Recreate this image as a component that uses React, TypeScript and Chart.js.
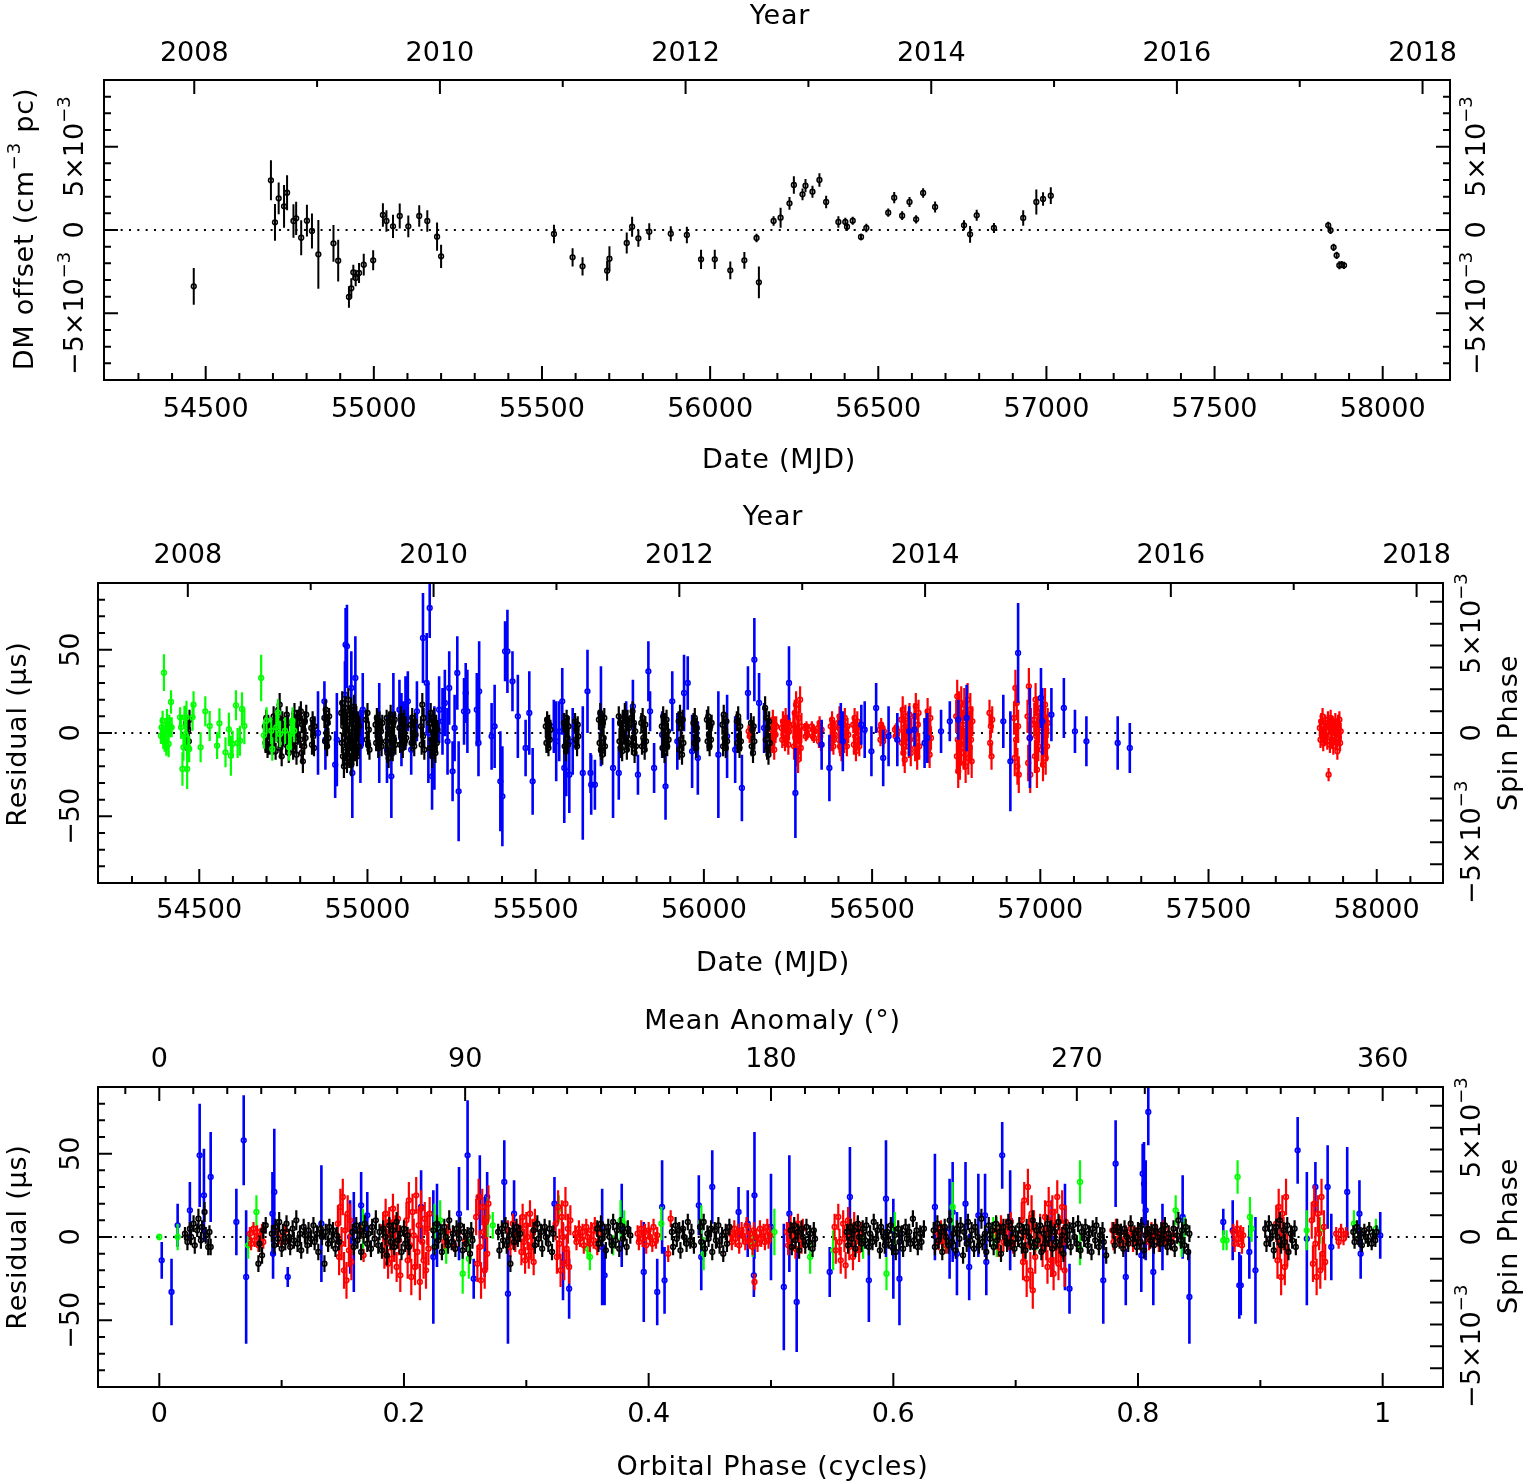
import React, { useEffect, useRef } from "react";
import { Chart, registerables } from "chart.js";

Chart.register(...registerables);

const W = 1528;
const H = 1484;
const FONT = '"DejaVu Sans", "Liberation Sans", sans-serif';

// ---------- tick label values ----------
const mjdTickLabels = [54500, 55000, 55500, 56000, 56500, 57000, 57500, 58000];
const yearTickLabels = [2008, 2010, 2012, 2014, 2016, 2018];
const phaseTickLabels = [0, 0.2, 0.4, 0.6, 0.8, 1];
const anomalyTickLabels = [0, 90, 180, 270, 360];
const residualTickLabels = [-50, 0, 50];
const milliTickLabels = [-5, 0, 5]; // in units of 10^-3

// ---------- Panel 1: DM offset [MJD, offset (1e-3 cm^-3 pc), error] ----------
const dmOffsets = [
  [54464.5, -3.38, 1.1],
  [54694, 2.98, 1.2], [54706, 0.46, 1.1], [54717, 1.9, 0.95], [54733, 1.42, 1.28], [54742, 2.24, 1.05],
  [54761, 0.54, 1.0], [54769, 0.7, 1.0], [54784, -0.46, 1.05], [54801, 0.56, 0.95], [54816, -0.06, 1.05],
  [54835, -1.46, 2.06], [54880, -0.8, 1.1], [54894, -1.84, 1.25], [54926, -4.02, 0.65], [54933, -3.5, 0.6],
  [54939, -2.54, 0.45], [54946, -2.88, 0.5], [54956, -2.58, 0.6], [54970, -2.08, 0.65], [54998, -1.82, 0.6],
  [55027, 0.9, 0.7], [55037.5, 0.54, 0.65], [55057, 0.22, 0.7], [55077, 0.84, 0.75], [55102.5, 0.22, 0.65],
  [55135, 0.84, 0.65], [55159, 0.54, 0.65], [55188, -0.4, 0.85], [55200, -1.58, 0.7],
  [55535.6, -0.24, 0.55], [55591, -1.64, 0.55], [55620.6, -2.18, 0.55], [55693.7, -2.44, 0.6], [55700.6, -1.72, 0.75],
  [55752, -0.78, 0.63], [55768, 0.2, 0.6], [55786.6, -0.5, 0.5], [55819, -0.1, 0.5], [55883, -0.22, 0.45],
  [55930.8, -0.3, 0.5], [55973, -1.76, 0.58], [56013.8, -1.76, 0.58], [56060, -2.42, 0.53], [56101.8, -1.82, 0.5],
  [56138, -0.48, 0.25], [56145, -3.14, 0.95], [56188.7, 0.54, 0.28], [56209.5, 0.74, 0.6], [56236, 1.6, 0.38],
  [56249, 2.7, 0.52], [56274.7, 2.14, 0.35], [56283.6, 2.66, 0.4], [56304.3, 2.3, 0.36], [56325, 3.0, 0.4],
  [56345, 1.68, 0.38], [56381.4, 0.48, 0.34], [56402, 0.48, 0.25], [56407, 0.2, 0.25], [56424, 0.56, 0.24],
  [56448.7, -0.42, 0.2], [56464.5, 0.12, 0.26], [56529.6, 1.04, 0.25], [56547.4, 1.94, 0.34], [56571, 0.86, 0.26],
  [56592.9, 1.68, 0.3], [56612.6, 0.64, 0.25], [56633.4, 2.22, 0.28], [56669, 1.38, 0.33], [56755, 0.28, 0.3],
  [56773, -0.26, 0.5], [56792.7, 0.88, 0.33], [56844, 0.12, 0.3], [56931, 0.72, 0.46], [56970, 1.68, 0.75],
  [56990, 1.86, 0.4], [57013, 2.06, 0.5], [57838, 0.28, 0.22], [57845, -0.02, 0.22], [57854, -1.04, 0.22],
  [57863, -1.52, 0.22], [57871, -2.12, 0.24], [57878, -2.08, 0.22], [57885, -2.12, 0.22],
];

// ---------- Panel 2: timing residuals vs date [MJD, residual (us), error] ----------
const p2Green = [
  [54386, -1.6, 5], [54388, 3.4, 6], [54391, 7.4, 6], [54393, -3.6, 6], [54395, 36.2, 11], [54397, -5.6, 5.6],
  [54399, 1.4, 5], [54402, -8.6, 5], [54404, 7.4, 7], [54406, -0.6, 6], [54409, -6.6, 8], [54411, 5, 6],
  [54414, 3.4, 6], [54416, 18.6, 7], [54418, 3.4, 6], [54443, 9.4, 6], [54446, 3.4, 7], [54450, -21.6, 10],
  [54453, -8.6, 8], [54456, 9.4, 7], [54459, -0.6, 8], [54462, 9.4, 10], [54464, -21.6, 12], [54467, -8.6, 8],
  [54470, -9.6, 8], [54480, 9.4, 8], [54483, 17, 8], [54504, -8.6, 9], [54518, 13, 9], [54531, 4.2, 9],
  [54553, -7.6, 8], [54560, 5.8, 9], [54578, -11.6, 9], [54588, 2.2, 10], [54594, -13.6, 12], [54599, -6.6, 8],
  [54609, 16.6, 9], [54614, -6, 9], [54621, -4.6, 9], [54627, 14.4, 10], [54634, 4.2, 11], [54684, 33, 14],
  [54692, -1.4, 8], [54700, 7.4, 8], [54714, 1.4, 8], [54717, -9.6, 7], [54729, 3.4, 9], [54734, 12.2, 8],
  [54740, -0.6, 8], [54755, 1.4, 8], [54767, -8.6, 8], [54772, -0.6, 9], [54777, 7.4, 8], [54782, 1.4, 7],
];

const p2Black = [
  [54461, 6, 5], [54463, -3, 6], [54465, -9, 5], [54467, 2, 6], [54469, -5, 5], [54471, 8, 6],
  [54695, 4, 5], [54697, -6, 6], [54699, 9, 5], [54701, -2, 6], [54703, -10, 5], [54705, 5, 6], [54707, 1, 5], [54709, -7, 6],
  [54717, 2, 6], [54719, -8, 5], [54721, 10, 6], [54723, -3, 5], [54725, 6, 6], [54727, -11, 5], [54729, 3, 6],
  [54735, 14, 6], [54737, -4, 5], [54739, 17, 7], [54741, -9, 6], [54743, 5, 5], [54745, -14, 6], [54747, 8, 5], [54749, -2, 6],
  [54756, 3, 5], [54758, -7, 6], [54760, 11, 5], [54762, -1, 6], [54764, 6, 5], [54766, -12, 6],
  [54775, -3, 6], [54777, 7, 5], [54779, -10, 6], [54781, 2, 5], [54783, 12, 6], [54785, -5, 5], [54787, 4, 6], [54789, -13, 6], [54791, 9, 5], [54793, -1, 6],
  [54798, 10, 6], [54800, -4, 5], [54802, 13, 6], [54804, -12, 6], [54806, 5, 5], [54808, -17, 7], [54810, 2, 6], [54812, -8, 5], [54814, 7, 6], [54816, -3, 5], [54818, 11, 6],
  [54833, 3, 5], [54835, -7, 6], [54837, 8, 5], [54839, -2, 6], [54841, -9, 5], [54843, 4, 6],
  [54872, 9, 6], [54874, -5, 5], [54876, 14, 6], [54878, 0, 5], [54880, -8, 6], [54882, 6, 5], [54884, -3, 6], [54886, 10, 5],
  [54922, 12, 7], [54924, -6, 6], [54925, 18, 7], [54927, -14, 6], [54928, 4, 6], [54930, -20, 7], [54931, 9, 6], [54933, -3, 6],
  [54934, 15, 7], [54936, -11, 6], [54937, 2, 6], [54939, -17, 7], [54940, 7, 6], [54942, -8, 6], [54943, 20, 7], [54945, -1, 6],
  [54946, -15, 6], [54948, 11, 6], [54949, -5, 6], [54951, 14, 7], [54952, -19, 7], [54954, 3, 6], [54955, -9, 6], [54957, 8, 6],
  [54958, -13, 6], [54960, 16, 7], [54961, -2, 6], [54963, -11, 6], [54964, 6, 6], [54966, -6, 6], [54967, 10, 6], [54969, -14, 6],
  [54970, 1, 6], [54972, 7, 6], [54974, -8, 6], [54976, 4, 6],
  [54996, 8, 6], [54998, -4, 5], [55000, 12, 6], [55002, -7, 6], [55004, 2, 5], [55006, -10, 6],
  [55024, 5, 6], [55026, -6, 5], [55028, 9, 6], [55030, -2, 5], [55032, -9, 6], [55034, 4, 5], [55036, 7, 6], [55038, -5, 5], [55040, 1, 6], [55042, -8, 6], [55044, 6, 5],
  [55055, -5, 6], [55057, 9, 5], [55059, -12, 6], [55061, 3, 5], [55063, -15, 6], [55065, 7, 6], [55067, -3, 5], [55069, 11, 6],
  [55071, -8, 6], [55073, 2, 5], [55075, -11, 6], [55077, 6, 5], [55079, -4, 6], [55081, 8, 5], [55083, -7, 6],
  [55095, 3, 6], [55097, -7, 5], [55099, 10, 6], [55101, -2, 5], [55103, 6, 6], [55105, -9, 6], [55107, 1, 5], [55109, 8, 6], [55111, -5, 5], [55113, 4, 6], [55115, -3, 5],
  [55129, 5, 6], [55131, -6, 5], [55133, 9, 6], [55135, -3, 5], [55137, 2, 6], [55139, -8, 6], [55141, 7, 5], [55143, -1, 6],
  [55159, 4, 6], [55161, -7, 6], [55163, 17, 7], [55165, -2, 6], [55167, 9, 6], [55169, -10, 6],
  [55184, 6, 6], [55186, -9, 6], [55188, 12, 6], [55190, -4, 6], [55192, -14, 7], [55194, 3, 6], [55196, -7, 6], [55198, 9, 6],
  [55200, -2, 6], [55202, -12, 6], [55204, 5, 6], [55206, -6, 6], [55208, 2, 6],
  [55530, 4, 5], [55532, -6, 6], [55534, 8, 5], [55536, -2, 6], [55538, -9, 5], [55540, 5, 6], [55542, -4, 5], [55544, 2, 6],
  [55584, 6, 6], [55586, -8, 5], [55588, 3, 6], [55590, -11, 6], [55592, 9, 5], [55594, -3, 6], [55596, -7, 5], [55598, 4, 6],
  [55617, 7, 5], [55619, -4, 6], [55621, 2, 5], [55623, -8, 6], [55625, 5, 5], [55627, -2, 6],
  [55688, 8, 6], [55690, -6, 6], [55692, 12, 6], [55694, -10, 6], [55696, 3, 5], [55698, -13, 6], [55700, 6, 6], [55702, -3, 5], [55704, 9, 6], [55706, -8, 6],
  [55747, 10, 6], [55749, -5, 6], [55751, 6, 5], [55753, -9, 6], [55755, 2, 5], [55757, -11, 6], [55759, 8, 6], [55761, -2, 5],
  [55765, 12, 6], [55767, -4, 6], [55769, 5, 5], [55771, -10, 6], [55773, 8, 6], [55775, -6, 5], [55777, 3, 6],
  [55784, 9, 6], [55786, -7, 6], [55788, 13, 6], [55790, -3, 5], [55792, 6, 6], [55794, -12, 6], [55796, 1, 5], [55798, -8, 6],
  [55814, 6, 6], [55816, -8, 5], [55818, 9, 6], [55820, -3, 5], [55822, 2, 6], [55824, -10, 6], [55826, 5, 5], [55828, -5, 6],
  [55875, 4, 6], [55877, -9, 6], [55879, 10, 6], [55881, -2, 5], [55883, -12, 6], [55885, 6, 6], [55887, -5, 5], [55889, 8, 6], [55891, -8, 6], [55893, 1, 5], [55895, -4, 6],
  [55925, 7, 6], [55927, -10, 6], [55929, 11, 6], [55931, -4, 5], [55933, 3, 6], [55935, -13, 6], [55937, 8, 6], [55939, -6, 5],
  [55969, 6, 6], [55971, -6, 5], [55973, 9, 6], [55975, -2, 5], [55977, -9, 6], [55979, 3, 6], [55981, -4, 5],
  [56009, 8, 6], [56011, -5, 6], [56013, 10, 6], [56015, -1, 5], [56017, -8, 6], [56019, 4, 5], [56021, -4, 6], [56023, 6, 5],
  [56055, 5, 6], [56057, -8, 6], [56059, 11, 6], [56061, -3, 5], [56063, 2, 6], [56065, -9, 6], [56067, 7, 5], [56069, -5, 6],
  [56098, 7, 6], [56100, -6, 6], [56102, 10, 6], [56104, -2, 5], [56106, -9, 6], [56108, 4, 5], [56110, -5, 6],
  [56140, 6, 6], [56142, -8, 6], [56144, 2, 5], [56146, -12, 6], [56148, 4, 6], [56150, -5, 5],
  [56182, 15, 7], [56184, -4, 6], [56186, 9, 6], [56188, -10, 6], [56190, 3, 6], [56192, -13, 6], [56194, 7, 6], [56196, -6, 6],
];

const p2Blue = [
  [54853, 0, 25], [54872, 19, 12], [54875, -4, 18], [54904, -19, 20], [54909, -4, 28], [54933, 23, 20], [54935, 53, 22],
  [54939, 52, 25], [54952, 27, 22], [54955, -24, 27], [54964, 33, 25], [54979, -8, 22], [54986, 14, 22], [55035, 0, 30],
  [55058, -10, 20], [55071, -26, 25], [55077, 11, 25], [55095, 14, 18], [55101, 2, 22], [55107, 5, 14], [55113, 12, 22],
  [55120, 19, 18], [55130, -10, 15], [55147, 13, 18], [55165, 57, 27], [55176, 30, 30], [55181, 0, 30], [55185, 75, 18],
  [55192, -26, 20], [55196, -8, 22], [55199, -9, 25], [55213, 14, 20], [55223, 7, 20], [55230, 18, 20], [55238, -5, 20],
  [55243, 27, 22], [55253, -23, 18], [55259, 3, 20], [55267, 36, 22], [55271, -35, 30], [55287, 13, 20], [55292, 24, 18],
  [55297, 13, 25], [55325, 14, 22], [55332, 25, 30], [55330, -6, 20], [55369, -2, 20], [55378, 4, 25], [55395, -29, 30],
  [55401, -38, 30], [55409, 49, 18], [55416, 49, 25], [55431, 31, 18], [55447, 10, 25], [55470, -9, 17], [55481, 12, 25],
  [55491, -29, 20], [55554, 4, 16], [55561, -5, 24], [55570, 1, 18], [55579, 19, 20], [55585, -21, 33], [55591, -23, 15],
  [55600, -25, 23], [55610, -5, 20], [55640, -24, 40], [55654, 25, 25], [55663, -24, 12], [55665, -31, 18], [55676, -31, 15],
  [55694, 10, 30], [55730, -21, 30], [55747, -24, 16], [55769, 7, 12], [55789, 16, 16], [55804, -25, 12], [55835, 37, 18],
  [55840, 13, 12], [55852, -21, 15], [55876, -1, 14], [55886, -32, 20], [55906, 19, 18], [55921, -5, 17], [55941, 24, 23],
  [55952, 30, 16], [55965, -11, 22], [55982, -15, 22], [56043, -13, 38], [56069, -2, 25], [56093, -10, 20], [56113, -33, 20],
  [56131, 24, 16], [56150, 44, 25], [56164, 18, 18], [56179, 3, 15], [56253, 30, 22], [56272, -36, 27], [56350, -7, 15],
  [56373, -21, 20], [56407, 6, 12], [56413, -5, 18], [56468, 5, 12], [56478, 2, 17], [56498, -11, 15], [56512, 15, 15],
  [56533, -15, 17], [56549, -2, 18], [56575, -4, 16], [56610, 1, 15], [56626, 2, 10], [56656, -6, 15], [56664, -3, 15],
  [56705, 1, 13], [56731, 7, 12], [56756, 8, 12], [56781, 9, 20], [56890, 7, 16], [56911, -17, 30], [56934, 48, 30],
  [56969, -3, 30], [57002, 21, 18], [57006, 7, 20], [57033, 11, 16], [57070, 15, 18], [57103, 1, 13], [57137, -5, 15],
  [57230, -6, 16], [57266, -9, 15],
];

const p2Red = [
  [56133, 1, 4], [56136, -2, 4], [56139, 3, 4], [56142, -1, 4], [56145, 2, 4],
  [56201, 2, 5], [56203, -6, 6], [56205, 8, 6], [56207, -3, 5], [56209, -10, 6], [56211, 5, 5], [56213, -1, 5], [56215, 4, 6],
  [56231, 3, 5], [56233, -4, 5], [56235, 7, 6], [56237, -1, 5], [56239, 5, 5], [56241, -6, 5], [56243, 9, 6], [56245, 2, 5],
  [56247, -3, 5], [56249, 6, 5], [56251, -7, 6], [56253, 1, 5], [56255, 4, 5],
  [56266, 5, 8], [56268, -8, 8], [56270, 12, 8], [56272, -3, 8], [56274, 17, 8], [56276, -12, 8], [56278, 2, 8], [56280, -16, 8],
  [56282, 9, 8], [56284, -5, 8], [56286, 20, 8], [56288, -9, 8], [56290, 4, 8],
  [56301, 3, 3], [56303, -2, 3], [56305, 4, 3], [56307, -1, 3], [56309, 2, 3],
  [56321, 4, 3], [56323, -2, 3], [56325, 2, 3], [56327, -3, 3], [56329, 1, 3],
  [56340, 3, 4], [56342, -5, 4], [56344, 6, 4], [56346, -2, 4], [56348, -7, 4], [56350, 2, 4],
  [56377, 4, 5], [56379, -6, 5], [56381, 8, 5], [56383, -2, 5], [56385, -8, 5], [56387, 3, 5], [56389, -1, 5],
  [56399, 6, 5], [56401, -4, 6], [56403, 10, 6], [56405, -8, 6], [56407, 2, 5], [56409, -11, 6], [56411, 7, 5], [56413, -2, 5],
  [56415, 5, 5], [56417, -6, 6], [56419, 9, 6], [56421, -3, 5], [56423, 1, 5], [56425, -8, 6], [56427, 4, 5], [56429, -1, 5],
  [56444, 5, 5], [56446, -7, 6], [56448, 9, 6], [56450, -2, 5], [56452, -11, 6], [56454, 3, 5], [56456, 7, 6], [56458, -5, 5],
  [56460, 1, 5], [56462, -8, 6],
  [56523, 2, 3], [56525, -4, 4], [56527, 5, 4], [56529, -1, 3], [56531, 3, 3], [56533, -5, 4], [56535, 1, 3], [56537, -2, 3],
  [56568, 2, 3], [56570, -2, 3], [56572, 3, 3], [56574, -1, 3], [56576, 1, 3],
  [56587, 8, 7], [56589, -6, 7], [56591, 14, 8], [56593, -12, 8], [56595, 3, 7], [56597, -16, 8], [56599, 10, 7], [56601, -3, 7],
  [56607, 6, 7], [56609, -8, 7], [56611, 11, 7], [56613, -4, 7], [56615, -12, 8], [56617, 2, 7],
  [56626, 10, 8], [56628, -9, 8], [56630, 16, 8], [56632, -3, 7], [56634, -14, 8], [56636, 5, 7], [56638, 12, 8], [56640, -8, 8],
  [56661, 7, 7], [56663, -5, 7], [56665, 13, 8], [56667, -10, 8], [56669, 2, 7], [56671, -13, 8], [56673, 9, 7], [56675, -3, 7],
  [56750, 10, 10], [56752, -14, 10], [56753, 22, 10], [56755, -4, 10], [56756, -23, 10], [56758, 15, 10], [56759, 2, 10], [56761, -18, 10],
  [56762, 7, 10], [56764, -9, 10], [56765, 18, 10],
  [56770, 5, 9], [56772, -12, 10], [56774, 17, 10], [56776, -6, 9], [56778, -20, 10], [56780, 9, 9], [56782, -2, 9], [56784, 20, 10],
  [56786, -15, 10], [56788, 4, 9], [56790, -9, 9], [56792, 14, 10], [56794, -4, 9], [56796, -17, 10], [56798, 7, 9],
  [56849, 12, 8], [56851, -6, 8], [56853, 4, 7], [56855, -14, 8], [56857, 8, 8],
  [56922, 9, 10], [56924, -15, 11], [56926, 27, 11], [56928, -4, 10], [56930, 18, 10], [56932, -20, 11], [56934, 4, 10], [56936, -25, 11],
  [56962, 10, 10], [56964, -18, 11], [56966, 28, 11], [56968, -3, 10], [56970, -25, 11], [56972, 5, 10],
  [56982, 8, 10], [56984, -14, 10], [56986, 20, 10], [56988, -2, 9], [56990, -22, 11], [56992, 12, 10], [56994, -8, 9], [56996, 3, 9],
  [57002, 15, 10], [57004, -10, 10], [57006, 5, 9], [57008, -19, 10], [57010, 10, 9], [57012, -4, 9], [57014, 17, 10], [57016, -15, 10],
  [57018, 2, 9], [57020, -8, 9], [57022, 6, 9],
  [57831, 3, 5], [57833, -4, 5], [57835, 7, 5], [57837, -1, 5], [57839, 10, 5], [57841, -6, 5], [57843, 2, 5], [57845, -3, 5],
  [57847, 6, 5], [57849, -2, 5], [57851, 1, 5], [57853, -5, 5], [57855, 8, 5], [57857, -25, 4], [57859, 4, 5], [57861, -7, 5],
  [57863, 9, 5], [57865, 0, 5], [57867, -4, 5], [57869, 5, 5], [57871, -8, 5], [57873, 3, 5], [57875, -2, 5], [57877, 7, 5],
  [57879, -5, 5], [57881, 2, 5], [57883, -11, 5], [57885, 6, 5], [57887, -3, 5], [57889, 8, 5], [57891, -6, 5], [57893, 1, 5],
];

// ---------- Panel 3: residuals vs orbital phase [phase, residual (us), error] ----------
const p3Black = [
  [0.021, 2, 4], [0.023, -3, 5], [0.025, 5, 4], [0.026, 0, 5], [0.028, 8, 5], [0.029, -5, 5], [0.031, 4, 4], [0.032, 11, 6],
  [0.034, -2, 5], [0.035, 6, 4], [0.037, 15, 6], [0.038, 1, 5], [0.040, -6, 5], [0.041, 3, 4], [0.042, -6, 5],
  [0.081, -16, 5], [0.082, -4, 5], [0.084, -11, 5], [0.085, 4, 5], [0.087, 7, 5],
  [0.092, 2, 5], [0.094, -5, 5], [0.095, 6, 5], [0.097, -1, 5], [0.098, 9, 6], [0.100, -7, 5], [0.101, 3, 5], [0.103, -3, 5],
  [0.104, 8, 5], [0.106, 0, 5], [0.107, -6, 5], [0.109, 5, 5], [0.110, -2, 5], [0.112, 10, 6], [0.113, -4, 5], [0.115, 2, 5],
  [0.116, -8, 5], [0.118, 6, 5], [0.119, 1, 5], [0.121, -5, 5], [0.122, 4, 5], [0.124, -1, 5], [0.126, 7, 5], [0.127, -3, 5],
  [0.129, 2, 5], [0.130, -9, 5], [0.132, 5, 5], [0.133, 0, 5], [0.135, -16, 5], [0.136, 3, 5], [0.138, -4, 5], [0.139, 6, 5],
  [0.141, -2, 5], [0.142, 4, 5], [0.144, -7, 5], [0.145, 1, 5], [0.147, -3, 5],
  [0.158, 3, 5], [0.159, -6, 5], [0.161, 7, 5], [0.162, -2, 5], [0.164, 4, 5], [0.165, -9, 5], [0.167, 1, 5], [0.168, 8, 5],
  [0.170, -4, 5], [0.171, 2, 5], [0.173, -7, 5], [0.174, 6, 5], [0.176, -1, 5], [0.177, 10, 6], [0.179, -5, 5], [0.180, 3, 5],
  [0.182, -8, 5], [0.183, 5, 5], [0.185, 0, 5], [0.186, -11, 6], [0.188, 7, 5], [0.189, -3, 5], [0.191, 4, 5], [0.192, -6, 5],
  [0.194, 9, 6], [0.195, -2, 5], [0.197, 2, 5], [0.198, -9, 5], [0.200, 5, 5], [0.201, -4, 5], [0.203, 1, 5], [0.204, -6, 5],
  [0.224, 4, 5], [0.225, -6, 5], [0.227, 8, 5], [0.228, -2, 5], [0.230, 3, 5], [0.231, -9, 5], [0.233, 6, 5], [0.234, 0, 5],
  [0.236, -5, 5], [0.237, 10, 6], [0.239, -3, 5], [0.240, 2, 5], [0.242, -7, 5], [0.243, 5, 5], [0.245, -1, 5], [0.246, 7, 5],
  [0.248, -8, 5], [0.249, 3, 5], [0.251, -4, 5], [0.252, 1, 5], [0.254, -10, 6], [0.255, 4, 5], [0.256, -2, 5],
  [0.277, 3, 5], [0.278, -8, 5], [0.280, 5, 5], [0.281, -2, 5], [0.283, 7, 5], [0.284, -5, 5], [0.286, 1, 5], [0.287, -16, 5],
  [0.289, 4, 5], [0.290, -3, 5], [0.292, 6, 5], [0.293, -1, 5], [0.295, 2, 5],
  [0.306, 4, 5], [0.307, -5, 5], [0.309, 8, 5], [0.310, -1, 5], [0.312, 3, 5], [0.313, -7, 5], [0.315, 6, 5], [0.316, 0, 5],
  [0.318, -4, 5], [0.319, 5, 5], [0.321, -9, 5], [0.322, 2, 5],
  [0.358, 5, 5], [0.359, -4, 5], [0.361, 8, 5], [0.362, -1, 5], [0.364, 3, 5], [0.365, -8, 5], [0.367, 6, 5], [0.368, 0, 5],
  [0.370, -5, 5], [0.371, 9, 5], [0.373, -2, 5], [0.374, 4, 5], [0.376, -7, 5], [0.377, 7, 5], [0.379, -1, 5], [0.380, 3, 5],
  [0.382, -6, 5], [0.383, 5, 5], [0.385, 1, 5],
  [0.419, 3, 5], [0.420, -6, 5], [0.422, 7, 5], [0.423, -1, 5], [0.425, 4, 5], [0.426, -8, 5], [0.428, 5, 5], [0.429, 0, 5],
  [0.431, -4, 5], [0.432, 9, 5], [0.434, -2, 5], [0.435, 3, 5], [0.437, -5, 5],
  [0.442, 6, 5], [0.443, -3, 5], [0.445, 9, 5], [0.446, -7, 5], [0.448, 2, 5], [0.449, -1, 5], [0.451, 5, 5], [0.452, -9, 5],
  [0.454, 4, 5], [0.455, -2, 5], [0.457, 7, 5], [0.458, -5, 5], [0.460, 1, 5], [0.461, -10, 5], [0.463, 3, 5], [0.464, -4, 5],
  [0.466, 6, 5],
  [0.516, 4, 5], [0.517, -6, 5], [0.519, 7, 5], [0.520, -2, 5], [0.522, 3, 5], [0.523, -8, 5], [0.525, 5, 5], [0.526, 0, 5],
  [0.528, -5, 5], [0.529, 6, 5], [0.531, -3, 5], [0.532, 2, 5], [0.534, -7, 5], [0.535, 4, 5], [0.536, -1, 5],
  [0.562, 3, 5], [0.563, -5, 5], [0.565, 6, 5], [0.566, -1, 5], [0.568, 4, 5], [0.569, -7, 5], [0.571, 8, 5], [0.572, 0, 5],
  [0.574, -4, 5], [0.575, 5, 5], [0.577, -2, 5], [0.578, 7, 5], [0.580, -6, 5], [0.581, 2, 5], [0.583, -3, 5], [0.584, 9, 5],
  [0.586, -1, 5], [0.587, 4, 5], [0.589, -8, 5], [0.590, 6, 5], [0.592, 0, 5], [0.593, -5, 5], [0.595, 3, 5], [0.596, -2, 5],
  [0.598, 7, 5], [0.599, -6, 5], [0.601, 1, 5], [0.602, -9, 5], [0.604, 5, 5], [0.605, -3, 5], [0.607, 2, 5], [0.608, -7, 5],
  [0.610, 6, 5], [0.611, -1, 5], [0.613, 3, 5], [0.614, -4, 5], [0.616, 11, 5], [0.617, -2, 5], [0.619, 4, 5], [0.620, -6, 5],
  [0.622, 2, 5], [0.623, -3, 5], [0.625, 5, 5],
  [0.633, 4, 5], [0.634, -6, 5], [0.636, 8, 5], [0.637, -2, 5], [0.639, 3, 5], [0.640, -9, 5], [0.642, 6, 5], [0.643, 0, 5],
  [0.645, -5, 5], [0.646, 10, 6], [0.648, -3, 5], [0.649, 2, 5], [0.651, -8, 5], [0.652, 5, 5], [0.654, -1, 5], [0.655, 7, 5],
  [0.657, -11, 5], [0.658, 3, 5], [0.660, -4, 5], [0.661, 9, 5], [0.663, -2, 5], [0.664, 4, 5], [0.666, -7, 5], [0.667, 6, 5],
  [0.669, 0, 5], [0.670, -5, 5], [0.672, 11, 6], [0.673, -3, 5], [0.675, 2, 5], [0.676, -9, 5], [0.678, 7, 5], [0.679, -1, 5],
  [0.681, 4, 5], [0.682, -6, 5], [0.684, 8, 5], [0.685, -2, 5], [0.687, 3, 5], [0.688, -10, 5], [0.690, 6, 5], [0.691, 0, 5],
  [0.693, -4, 5], [0.694, 9, 5], [0.696, -3, 5], [0.697, 5, 5], [0.699, -7, 5], [0.700, 2, 5], [0.702, -1, 5], [0.703, 7, 5],
  [0.705, -5, 5], [0.706, 3, 5], [0.708, -8, 5], [0.709, 6, 5], [0.711, 0, 5], [0.712, -3, 5], [0.714, 10, 6], [0.715, -6, 5],
  [0.717, 4, 5], [0.718, -2, 5], [0.720, 7, 5], [0.721, -9, 5], [0.723, 2, 5], [0.724, -4, 5], [0.726, 8, 5], [0.727, -1, 5],
  [0.729, 5, 5], [0.730, -7, 5], [0.732, 3, 5], [0.733, -3, 5], [0.735, 9, 5], [0.736, -5, 5], [0.738, 1, 5], [0.739, -10, 5],
  [0.741, 6, 5], [0.742, -2, 5], [0.744, 4, 5], [0.745, -6, 5], [0.747, 7, 5], [0.748, 0, 5], [0.750, -4, 5], [0.751, 8, 5],
  [0.753, -8, 5], [0.754, 3, 5], [0.756, -1, 5], [0.757, 6, 5], [0.759, -5, 5], [0.760, 2, 5], [0.762, -9, 5], [0.763, 5, 5],
  [0.765, -2, 5], [0.766, 7, 5], [0.768, -6, 5], [0.769, 1, 5], [0.771, 4, 5], [0.772, -3, 5], [0.774, -11, 5],
  [0.780, 4, 5], [0.781, -5, 5], [0.783, 6, 5], [0.785, -2, 5], [0.786, 3, 5], [0.788, -7, 5], [0.789, 5, 5], [0.791, 0, 5],
  [0.792, -4, 5], [0.794, 8, 5], [0.796, -1, 5], [0.797, 2, 5], [0.799, -6, 5], [0.800, 4, 5], [0.802, -3, 5], [0.803, 7, 5],
  [0.805, -8, 5], [0.806, 1, 5], [0.808, 5, 5], [0.810, -2, 5], [0.811, 3, 5], [0.813, -5, 5], [0.814, 6, 5], [0.816, 0, 5],
  [0.818, -4, 5], [0.819, 4, 5], [0.821, -1, 5], [0.822, 7, 5], [0.824, -6, 5], [0.825, 2, 5], [0.827, -3, 5], [0.829, 5, 5],
  [0.830, -7, 5], [0.832, 1, 5], [0.833, 10, 5], [0.835, -2, 5], [0.836, 4, 5], [0.838, -5, 5], [0.839, 6, 5], [0.841, -9, 5],
  [0.842, 2, 5],
  [0.904, 5, 5], [0.905, -4, 5], [0.907, 8, 5], [0.908, -1, 5], [0.910, 3, 5], [0.911, -8, 5], [0.913, 6, 5], [0.914, 0, 5],
  [0.916, 10, 5], [0.917, -5, 5], [0.919, 4, 5], [0.920, -3, 5], [0.922, 7, 5], [0.923, -9, 5], [0.925, 2, 5], [0.926, -2, 5],
  [0.928, 5, 5], [0.929, -6, 5],
  [0.976, 3, 4], [0.977, -3, 4], [0.979, 6, 4], [0.980, -1, 4], [0.982, 2, 4], [0.983, -5, 4], [0.985, 4, 4], [0.986, 0, 4],
  [0.988, -2, 4], [0.989, 5, 4], [0.991, -4, 4], [0.992, 1, 4], [0.994, -2, 4], [0.995, 3, 4],
];

const p3Red = [
  [0.074, 2, 4], [0.075, -4, 4], [0.077, 5, 4], [0.078, -2, 4], [0.080, 3, 4], [0.081, -5, 4], [0.083, 1, 4], [0.084, 4, 4], [0.085, -3, 4],
  [0.097, 2, 4], [0.100, -3, 4], [0.103, 4, 4], [0.106, -2, 4],
  [0.146, 8, 11], [0.147, -12, 11], [0.148, 18, 11], [0.149, -4, 10], [0.150, 24, 11], [0.151, -20, 11], [0.152, 4, 10], [0.153, -26, 11],
  [0.154, 14, 11], [0.155, -8, 10], [0.156, 10, 10], [0.157, -15, 11],
  [0.165, 3, 4], [0.167, -11, 4],
  [0.183, 6, 9], [0.184, -10, 9], [0.185, 14, 9], [0.186, -4, 9], [0.187, -16, 9], [0.188, 9, 9], [0.189, 1, 9], [0.190, -13, 9],
  [0.191, 17, 9], [0.192, -6, 9], [0.193, 4, 9], [0.194, -18, 9], [0.195, 11, 9], [0.196, -2, 9], [0.197, -23, 10],
  [0.202, 10, 11], [0.203, -14, 11], [0.204, 22, 11], [0.205, -5, 10], [0.206, -24, 11], [0.207, 15, 11], [0.208, 1, 10], [0.209, -18, 11],
  [0.210, 25, 11], [0.211, -9, 10], [0.212, 7, 10], [0.213, -27, 11], [0.214, 17, 11], [0.215, -3, 10], [0.216, -14, 11], [0.217, 11, 10],
  [0.218, -20, 11], [0.219, 5, 10], [0.220, -7, 10], [0.221, 14, 10],
  [0.233, -3, 4], [0.236, 4, 4], [0.241, -5, 4], [0.245, 3, 4], [0.250, -2, 4],
  [0.259, 12, 11], [0.260, -16, 11], [0.261, 24, 11], [0.262, -6, 10], [0.263, -26, 11], [0.264, 18, 11], [0.265, 3, 10], [0.266, -20, 11],
  [0.267, 9, 10], [0.268, -10, 10], [0.269, 20, 11],
  [0.285, 4, 6], [0.287, -6, 6], [0.289, 8, 6], [0.291, -3, 6], [0.293, 2, 6],
  [0.295, 5, 8], [0.296, -9, 8], [0.297, 12, 8], [0.298, -3, 8], [0.299, -14, 8], [0.300, 7, 8], [0.301, 0, 8], [0.302, -11, 8],
  [0.303, 14, 8], [0.304, -6, 8], [0.305, 3, 8], [0.306, -15, 8], [0.307, 9, 8],
  [0.324, 8, 10], [0.325, -12, 10], [0.326, 18, 10], [0.327, -4, 9], [0.328, -20, 10], [0.329, 12, 10], [0.330, 0, 9], [0.331, -16, 10],
  [0.332, 20, 10], [0.333, -7, 9], [0.334, 5, 9], [0.335, -18, 10], [0.336, 10, 9],
  [0.340, 2, 5], [0.341, -3, 5], [0.343, 5, 5], [0.344, -1, 5], [0.346, 3, 5], [0.347, -5, 5], [0.349, 6, 5], [0.350, 0, 5],
  [0.352, -4, 5], [0.353, 4, 5], [0.355, -2, 5], [0.356, 7, 5], [0.358, -6, 5], [0.359, 2, 5],
  [0.391, 2, 5], [0.392, -3, 5], [0.394, 5, 5], [0.395, -1, 5], [0.397, 3, 5], [0.398, -5, 5], [0.400, 4, 5], [0.401, 0, 5],
  [0.403, -4, 5], [0.404, 6, 5], [0.406, -2, 5], [0.407, 1, 5], [0.416, -10, 5], [0.418, 11, 5],
  [0.467, 2, 5], [0.468, -3, 5], [0.470, 5, 5], [0.471, -1, 5], [0.473, 3, 5], [0.474, -5, 5], [0.476, 4, 5], [0.477, 1, 5],
  [0.479, -3, 5], [0.480, 7, 5], [0.482, -2, 5], [0.483, 2, 5], [0.485, -6, 5], [0.486, 4, 5], [0.4865, -27, 5], [0.488, 0, 5],
  [0.489, -4, 5], [0.491, 5, 5], [0.492, -1, 5], [0.494, 3, 5], [0.495, -3, 5], [0.497, 6, 5], [0.498, -2, 5], [0.499, 1, 5],
  [0.513, 3, 6], [0.514, -5, 6], [0.516, 7, 6], [0.517, -2, 6], [0.519, 4, 6], [0.520, -7, 6], [0.522, 8, 6], [0.523, 0, 6],
  [0.525, -4, 6], [0.526, 5, 6],
  [0.552, 6, 8], [0.553, -8, 8], [0.555, 12, 8], [0.556, -3, 8], [0.557, -14, 8], [0.559, 8, 8], [0.560, -1, 8], [0.561, -17, 8],
  [0.563, 10, 8], [0.564, -6, 8], [0.565, 3, 8], [0.567, -12, 8], [0.568, 7, 8], [0.569, -3, 7], [0.571, 5, 7], [0.572, -8, 7],
  [0.574, 2, 7],
  [0.636, 3, 5], [0.637, -3, 5], [0.639, 5, 5], [0.640, -2, 5], [0.642, 2, 5], [0.643, -5, 5],
  [0.684, 4, 6], [0.686, -6, 6], [0.688, 7, 6], [0.690, -3, 6], [0.692, 5, 6], [0.694, -2, 6], [0.696, 9, 6], [0.698, -4, 6],
  [0.705, 10, 11], [0.706, -15, 11], [0.707, 22, 11], [0.708, -5, 10], [0.709, -25, 11], [0.710, 30, 11], [0.711, 3, 10], [0.712, -20, 11],
  [0.713, 14, 11], [0.714, -32, 11], [0.715, 6, 10], [0.716, -12, 10],
  [0.720, 4, 10], [0.722, -8, 10], [0.724, 12, 10], [0.725, -4, 10], [0.726, -18, 10], [0.727, 20, 10], [0.728, 2, 10], [0.729, -14, 10],
  [0.730, 15, 10], [0.731, -22, 10], [0.732, 7, 10], [0.733, -6, 10], [0.734, 24, 10], [0.735, -16, 10], [0.736, 3, 10], [0.737, -10, 10],
  [0.738, 18, 10], [0.739, -3, 10], [0.740, -20, 10], [0.741, 9, 10],
  [0.779, 4, 5], [0.780, -3, 5], [0.782, 6, 5], [0.784, -1, 5], [0.786, 3, 5], [0.788, -5, 5], [0.790, 2, 5], [0.792, -2, 5],
  [0.794, 5, 5], [0.796, -4, 5], [0.798, 1, 5], [0.800, 3, 5], [0.802, -3, 5],
  [0.807, 2, 5], [0.809, -3, 5], [0.811, 4, 5], [0.813, -1, 5], [0.815, 3, 5], [0.817, -4, 5], [0.819, 1, 5], [0.821, 5, 5],
  [0.823, -2, 5], [0.825, 2, 5], [0.827, -3, 5], [0.829, 1, 5],
  [0.878, 3, 5], [0.879, -4, 5], [0.881, 5, 5], [0.882, -1, 5], [0.884, 2, 5], [0.885, -5, 5], [0.886, 1, 5],
  [0.913, 8, 11], [0.914, -14, 11], [0.915, 18, 11], [0.916, -4, 10], [0.917, -24, 11], [0.918, 14, 11], [0.919, 2, 10], [0.920, -18, 11],
  [0.921, 24, 11], [0.922, -8, 10],
  [0.942, 10, 11], [0.943, -16, 11], [0.944, 20, 11], [0.945, -4, 10], [0.946, -24, 11], [0.947, 14, 11], [0.948, 2, 10], [0.949, -20, 11],
  [0.950, 24, 11], [0.951, -10, 10], [0.952, 6, 10], [0.953, -15, 11],
  [0.962, 2, 4], [0.964, -3, 4], [0.966, 4, 4], [0.968, -1, 4], [0.970, 2, 4],
];

const p3Green = [
  [0.000, 0, 2], [0.015, 0, 8], [0.0726, -5, 8], [0.0794, 15, 10], [0.1665, 5, 12], [0.225, 5, 15], [0.2296, 10, 12],
  [0.2345, -6, 10], [0.248, -22, 12], [0.253, -13, 12], [0.2685, 12, 12], [0.2726, 7, 8], [0.3266, 17, 8], [0.352, -12, 8],
  [0.350, -7, 6], [0.371, -5, 6], [0.377, 10, 12], [0.380, 8, 8], [0.4104, 8, 10], [0.4431, 9, 10], [0.445, -10, 10],
  [0.485, -4, 8], [0.5028, 3, 14], [0.532, -12, 10], [0.5508, -8, 12], [0.5753, -3, 10], [0.5944, -22, 10], [0.6012, 5, 10],
  [0.641, 0, 8], [0.6485, 18, 15], [0.6817, 2, 10], [0.6845, 0, 12], [0.7172, -2, 6], [0.7526, 33, 13], [0.7526, -7, 10],
  [0.8308, 16, 9], [0.8357, -4, 8], [0.8379, 4, 8], [0.8697, -2, 6], [0.8724, -2, 6], [0.8814, 36, 10], [0.8915, 12, 12],
  [0.8929, 5, 8], [0.916, -5, 8], [0.9379, 4, 12], [0.9488, 4, 8], [0.9765, 8, 8], [0.9945, 5, 6],
];

const p3Blue = [
  [0.002, -14, 11], [0.010, -33, 20], [0.015, 7, 13], [0.025, 16, 17], [0.033, 49, 31], [0.0365, 25, 28], [0.042, 36, 27],
  [0.063, 9, 20], [0.069, 58, 27], [0.071, -24, 40], [0.0925, 14, 25], [0.094, 27, 38], [0.093, -10, 15], [0.105, -24, 6],
  [0.1325, 8, 35], [0.156, 0, 22], [0.159, -3, 30], [0.165, 19, 20], [0.170, 13, 14], [0.214, 18, 22], [0.224, -12, 40],
  [0.227, 7, 25], [0.245, 14, 28], [0.252, 49, 33], [0.257, -25, 12], [0.262, 24, 25], [0.266, 0, 24], [0.268, 24, 15],
  [0.282, 33, 25], [0.285, -34, 30], [0.290, 14, 20], [0.323, 20, 16], [0.330, -15, 23], [0.335, -31, 18], [0.362, -6, 35],
  [0.364, -23, 18], [0.378, 7, 25], [0.396, -21, 30], [0.407, -33, 20], [0.411, 18, 28], [0.413, -26, 20], [0.441, 19, 18],
  [0.443, -12, 20], [0.452, 30, 22], [0.4735, 15, 15], [0.481, 8, 20], [0.4865, 25, 38], [0.486, -23, 13], [0.500, 6, 32],
  [0.5105, -30, 38], [0.515, 14, 35], [0.521, -39, 30], [0.548, -21, 15], [0.5645, 24, 30], [0.580, -26, 25], [0.594, 23, 35],
  [0.600, -7, 30], [0.605, -25, 28], [0.634, 18, 32], [0.646, 5, 30], [0.6485, 15, 30], [0.652, -10, 25], [0.659, 20, 25],
  [0.662, -18, 20], [0.6695, 13, 25], [0.675, 13, 25], [0.676, -15, 20], [0.689, 49, 20], [0.6955, 10, 30], [0.7294, -1, 23],
  [0.7403, 0, 32], [0.744, -31, 15], [0.7716, -26, 26], [0.7817, 44, 26], [0.790, -24, 17], [0.8027, -11, 22], [0.8038, 38, 18],
  [0.8049, 32, 25], [0.8063, 16, 30], [0.8084, 75, 20], [0.8125, -21, 20], [0.820, 0, 20], [0.8365, 12, 25], [0.842, -36, 28],
  [0.8697, 9, 8], [0.8774, 4, 18], [0.8828, -29, 20], [0.884, -29, 18], [0.891, -9, 16], [0.896, -20, 32], [0.9305, 52, 20],
  [0.938, -1, 40], [0.945, 30, 15], [0.955, 30, 25], [0.958, -6, 20], [0.971, 27, 27], [0.981, 14, 20], [0.982, -10, 15],
  [0.998, 1, 14],
];

// ---------- helpers ----------
const MAIN_SIZE = 27;
const SUP_SIZE = 18;
const SUP_RAISE = 13;

function fmtNum(v) {
  const s = String(Math.abs(v));
  return v < 0 ? "\u2212" + s : s;
}
function plainSegs(v) {
  return [{ t: fmtNum(v) }];
}
function milliSegs(v) {
  if (v === 0) return [{ t: "0" }];
  return [{ t: fmtNum(v) + "\u00d710" }, { t: "\u22123", sup: true }];
}
function range(a, b, step) {
  const out = [];
  for (let v = a; v <= b + 1e-9; v += step) out.push(Math.round(v * 1e6) / 1e6);
  return out;
}

function drawRich(ctx, segs, x, y, rot, spacing) {
  ctx.save();
  ctx.translate(x, y);
  ctx.rotate(rot);
  ctx.textAlign = "left";
  ctx.textBaseline = "alphabetic";
  ctx.fillStyle = "#000";
  const ls = spacing ? `${spacing}px` : "0px";
  try { ctx.letterSpacing = ls; } catch (e) { /* ignore */ }
  let total = 0;
  const widths = segs.map((s) => {
    ctx.font = `${s.sup ? SUP_SIZE : MAIN_SIZE}px ${FONT}`;
    const w = ctx.measureText(s.t).width;
    total += w;
    return w;
  });
  let cx = -total / 2;
  segs.forEach((s, i) => {
    ctx.font = `${s.sup ? SUP_SIZE : MAIN_SIZE}px ${FONT}`;
    ctx.fillText(s.t, cx, s.sup ? -SUP_RAISE : 0);
    cx += widths[i];
  });
  try { ctx.letterSpacing = "0px"; } catch (e) { /* ignore */ }
  ctx.restore();
}

const errorBarPlugin = {
  id: "errBars",
  beforeDatasetDraw(chart, args) {
    const ds = chart.data.datasets[args.index];
    const meta = args.meta;
    const ys = chart.scales[meta.yAxisID];
    const a = chart.chartArea;
    const ctx = chart.ctx;
    ctx.save();
    ctx.beginPath();
    ctx.rect(a.left, a.top, a.right - a.left, a.bottom - a.top);
    ctx.clip();
    ctx.strokeStyle = ds.borderColor;
    ctx.lineWidth = ds.errWidth || 2;
    ctx.lineCap = "butt";
    ctx.beginPath();
    meta.data.forEach((el, i) => {
      const d = ds.data[i];
      const y1 = ys.getPixelForValue(d.y + d.e);
      const y2 = ys.getPixelForValue(d.y - d.e);
      ctx.moveTo(el.x, y1);
      ctx.lineTo(el.x, y2);
    });
    ctx.stroke();
    ctx.restore();
  },
};

const framePlugin = {
  id: "pgFrame",
  beforeDatasetsDraw(chart) {
    const ctx = chart.ctx;
    const a = chart.chartArea;
    const y0 = chart.scales.y.getPixelForValue(0);
    ctx.save();
    ctx.strokeStyle = "#000";
    ctx.lineWidth = 2;
    ctx.setLineDash([2, 6.33]);
    ctx.beginPath();
    ctx.moveTo(a.left, y0);
    ctx.lineTo(a.right, y0);
    ctx.stroke();
    ctx.restore();
  },
  afterDraw(chart, _args, opts) {
    const ctx = chart.ctx;
    const a = chart.chartArea;
    ctx.save();
    ctx.strokeStyle = "#000";
    ctx.lineWidth = 2;
    ctx.setLineDash([]);
    ctx.strokeRect(a.left, a.top, a.right - a.left, a.bottom - a.top);
    ["bottom", "top", "left", "right"].forEach((side) => {
      const s = opts[side];
      if (!s) return;
      const sc = chart.scales[s.scale];
      const horiz = side === "bottom" || side === "top";
      ctx.beginPath();
      const tick = (v, len) => {
        const p = sc.getPixelForValue(v);
        if (horiz) {
          if (p < a.left + 1 || p > a.right - 1) return;
          const y = side === "bottom" ? a.bottom : a.top;
          const d = side === "bottom" ? -len : len;
          ctx.moveTo(p, y);
          ctx.lineTo(p, y + d);
        } else {
          if (p < a.top + 1 || p > a.bottom - 1) return;
          const x = side === "left" ? a.left : a.right;
          const d = side === "left" ? len : -len;
          ctx.moveTo(x, p);
          ctx.lineTo(x + d, p);
        }
      };
      s.minor.forEach((v) => tick(v, s.minorLen || 7));
      s.major.forEach((v) => tick(v, s.majorLen || 14));
      ctx.stroke();
      s.labels.forEach(([v, segs]) => {
        const p = sc.getPixelForValue(v);
        if (horiz) drawRich(ctx, segs, p, s.labelPos, 0, 0);
        else drawRich(ctx, segs, s.labelPos, p, -Math.PI / 2, 0);
      });
      if (s.title) {
        if (horiz) drawRich(ctx, s.title, s.titleAlong, s.titlePos, 0, 0.8);
        else drawRich(ctx, s.title, s.titlePos, s.titleAlong, -Math.PI / 2, 0.8);
      }
    });
    ctx.restore();
  },
};

function ds(arr, color, errWidth) {
  return {
    data: arr.map(([x, y, e]) => ({ x, y, e })),
    borderColor: color,
    pointBorderColor: color,
    pointBackgroundColor: "rgba(0,0,0,0)",
    pointRadius: 2.4,
    pointBorderWidth: 1.5,
    pointHoverRadius: 2.4,
    errWidth,
    showLine: false,
  };
}

function baseOptions(area, scales, frame) {
  return {
    responsive: false,
    maintainAspectRatio: false,
    animation: false,
    devicePixelRatio: 1,
    events: [],
    layout: {
      padding: { left: area.left, top: area.top, right: W - area.right, bottom: H - area.bottom },
    },
    scales,
    plugins: {
      legend: { display: false },
      tooltip: { enabled: false },
      pgFrame: frame,
    },
  };
}

const hidden = (min, max, position) => ({ type: "linear", min, max, display: false, position });

// MJD -> calendar year for the top axes (2008.0 = MJD 54466)
const mjdToYear = (m) => 2008 + (m - 54466) / 365.25;

function makePanel1() {
  const area = { left: 104, top: 80, right: 1450, bottom: 380 };
  const xmin = 54197.6, xmax = 58200.1;
  const scales = {
    x: hidden(xmin, xmax, "bottom"),
    x2: hidden(mjdToYear(xmin), mjdToYear(xmax), "top"),
    y: hidden(-9, 9, "left"),
    y2: hidden(-9, 9, "right"),
  };
  const frame = {
    bottom: {
      scale: "x", major: mjdTickLabels, minor: range(54200, 58200, 100),
      labels: mjdTickLabels.map((v) => [v, plainSegs(v)]), labelPos: 417,
      title: [{ t: "Date (MJD)" }], titlePos: 468, titleAlong: 779,
    },
    top: {
      scale: "x2", major: yearTickLabels, minor: range(2008, 2018, 1),
      labels: yearTickLabels.map((v) => [v, plainSegs(v)]), labelPos: 61,
      title: [{ t: "Year" }], titlePos: 23.5, titleAlong: 780,
    },
    left: {
      scale: "y", major: milliTickLabels, minor: range(-8, 8, 1),
      labels: milliTickLabels.map((v) => [v, milliSegs(v)]), labelPos: 83,
      title: [{ t: "DM offset (cm" }, { t: "\u22123", sup: true }, { t: " pc)" }], titlePos: 33, titleAlong: 229,
    },
    right: {
      scale: "y2", major: milliTickLabels, minor: range(-8, 8, 1),
      labels: milliTickLabels.map((v) => [v, milliSegs(v)]), labelPos: 1485,
    },
  };
  return {
    type: "scatter",
    data: { datasets: [ds(dmOffsets, "#000000", 2)] },
    options: baseOptions(area, scales, frame),
    plugins: [errorBarPlugin, framePlugin],
  };
}

const SPIN_MAX = 6.86; // 90 us expressed in 1e-3 spin phase

function makePanel2() {
  const area = { left: 98, top: 583, right: 1443, bottom: 883 };
  const xmin = 54199, xmax = 58197;
  const scales = {
    x: hidden(xmin, xmax, "bottom"),
    x2: hidden(mjdToYear(xmin), mjdToYear(xmax), "top"),
    y: hidden(-90, 90, "left"),
    y2: hidden(-SPIN_MAX, SPIN_MAX, "right"),
  };
  const frame = {
    bottom: {
      scale: "x", major: mjdTickLabels, minor: range(54200, 58100, 100),
      labels: mjdTickLabels.map((v) => [v, plainSegs(v)]), labelPos: 918,
      title: [{ t: "Date (MJD)" }], titlePos: 971, titleAlong: 773,
    },
    top: {
      scale: "x2", major: yearTickLabels, minor: range(2008, 2018, 1),
      labels: yearTickLabels.map((v) => [v, plainSegs(v)]), labelPos: 563,
      title: [{ t: "Year" }], titlePos: 525, titleAlong: 773,
    },
    left: {
      scale: "y", major: residualTickLabels, minor: range(-80, 80, 10),
      labels: residualTickLabels.map((v) => [v, plainSegs(v)]), labelPos: 79,
      title: [{ t: "Residual (\u03bcs)" }], titlePos: 26, titleAlong: 734,
    },
    right: {
      scale: "y2", major: milliTickLabels, minor: range(-6, 6, 1), minorLen: 13, majorLen: 13,
      labels: milliTickLabels.map((v) => [v, milliSegs(v)]), labelPos: 1480,
      title: [{ t: "Spin Phase" }], titlePos: 1517, titleAlong: 733,
    },
  };
  return {
    type: "scatter",
    data: {
      datasets: [
        ds(p2Green, "#00ff00", 2.2),
        ds(p2Black, "#000000", 2.2),
        ds(p2Blue, "#0000ff", 2.6),
        ds(p2Red, "#ff0000", 2.2),
      ],
    },
    options: baseOptions(area, scales, frame),
    plugins: [errorBarPlugin, framePlugin],
  };
}

function makePanel3() {
  const area = { left: 98, top: 1087, right: 1443, bottom: 1387 };
  const xmin = -0.0501, xmax = 1.0493;
  const scales = {
    x: hidden(xmin, xmax, "bottom"),
    x2: hidden(xmin * 360, xmax * 360, "top"),
    y: hidden(-90, 90, "left"),
    y2: hidden(-SPIN_MAX, SPIN_MAX, "right"),
  };
  const frame = {
    bottom: {
      scale: "x", major: phaseTickLabels, minor: range(0, 1, 0.1),
      labels: phaseTickLabels.map((v) => [v, plainSegs(v)]), labelPos: 1422,
      title: [{ t: "Orbital Phase (cycles)" }], titlePos: 1475, titleAlong: 772.5,
    },
    top: {
      scale: "x2", major: anomalyTickLabels, minor: range(-10, 370, 10),
      labels: anomalyTickLabels.map((v) => [v, plainSegs(v)]), labelPos: 1067,
      title: [{ t: "Mean Anomaly (\u00b0)" }], titlePos: 1029, titleAlong: 772.5,
    },
    left: {
      scale: "y", major: residualTickLabels, minor: range(-80, 80, 10),
      labels: residualTickLabels.map((v) => [v, plainSegs(v)]), labelPos: 79,
      title: [{ t: "Residual (\u03bcs)" }], titlePos: 26, titleAlong: 1237,
    },
    right: {
      scale: "y2", major: milliTickLabels, minor: range(-6, 6, 1), minorLen: 13, majorLen: 13,
      labels: milliTickLabels.map((v) => [v, milliSegs(v)]), labelPos: 1480,
      title: [{ t: "Spin Phase" }], titlePos: 1517, titleAlong: 1236,
    },
  };
  return {
    type: "scatter",
    data: {
      datasets: [
        ds(p3Black, "#000000", 2.2),
        ds(p3Red, "#ff0000", 2.2),
        ds(p3Green, "#00ff00", 2.2),
        ds(p3Blue, "#0000ff", 2.6),
      ],
    },
    options: baseOptions(area, scales, frame),
    plugins: [errorBarPlugin, framePlugin],
  };
}

function Panel({ make }) {
  const ref = useRef(null);
  useEffect(() => {
    const chart = new Chart(ref.current, make());
    return () => chart.destroy();
  }, [make]);
  return (
    <canvas
      ref={ref}
      width={W}
      height={H}
      style={{ position: "absolute", left: 0, top: 0, width: W, height: H }}
    />
  );
}

export default function App() {
  return (
    <div style={{ position: "absolute", left: 0, top: 0, width: W, height: H, background: "#ffffff", overflow: "hidden" }}>
      <Panel make={makePanel1} />
      <Panel make={makePanel2} />
      <Panel make={makePanel3} />
    </div>
  );
}
